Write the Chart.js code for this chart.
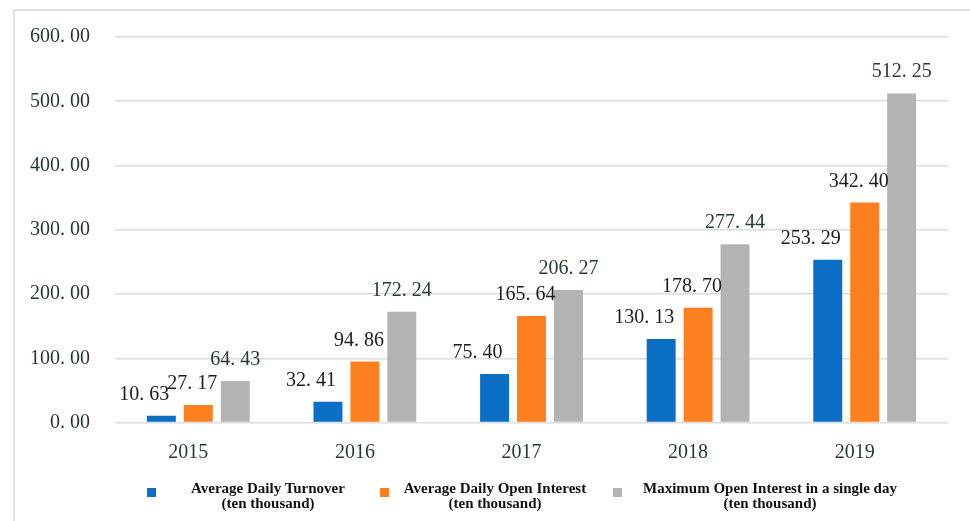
<!DOCTYPE html>
<html>
<head>
<meta charset="utf-8">
<script src="https://cdn.jsdelivr.net/npm/chart.js@4"></script>
<style>
  html, body { margin: 0; padding: 0; background: #fff; }
  #wrap { position: relative; width: 970px; height: 521px; overflow: hidden; }
  #frame { position: absolute; left: 13px; top: 9px; width: 1000px; height: 600px;
           border: 2px solid #e2e2e2; box-sizing: border-box; }
  #chart { position: absolute; left: 0; top: 0; }
  .lg-box { position: absolute; width: 9px; height: 9px; }
  .lg-text { position: absolute; transform: translateX(-50%); white-space: nowrap; text-align: center;
             font: bold 15px "Liberation Serif", "Times New Roman", serif; line-height: 15px; color: #111; }
</style>
</head>
<body>
<div id="wrap">
  <div id="frame"></div>
  <canvas id="chart" width="970" height="521"></canvas>
  <div id="legend"></div>
</div>
<script>
const years = ['2015', '2016', '2017', '2018', '2019'];
const turnover = [10.63, 32.41, 75.40, 130.13, 253.29];
const openInterest = [27.17, 94.86, 165.64, 178.70, 342.40];
const maxOpenInterest = [64.43, 172.24, 206.27, 277.44, 512.25];
const seriesNames = [
  ['Average Daily Turnover', '(ten thousand)'],
  ['Average Daily Open Interest', '(ten thousand)'],
  ['Maximum Open Interest in a single day', '(ten thousand)']
];
const yTicks = [0, 100, 200, 300, 400, 500, 600];

const colors = ['#0b6fc6', '#fd7f20', '#b3b3b3'];
const labelColors = ['#1c1c1c', '#1c1c1c', '#23402d'];
const labelShift = [-17, -6, 0];

function fmt(v) {
  return v.toFixed(2).replace('.', '. ');
}

// value labels drawn above each bar
const valueLabels = {
  id: 'valueLabels',
  afterDatasetsDraw(chart) {
    const ctx = chart.ctx;
    ctx.save();
    ctx.font = '20px "Liberation Serif", "Times New Roman", serif';
    ctx.textAlign = 'center';
    ctx.textBaseline = 'alphabetic';
    chart.data.datasets.forEach((ds, i) => {
      chart.getDatasetMeta(i).data.forEach((bar, j) => {
        ctx.fillStyle = labelColors[i];
        ctx.fillText(fmt(ds.data[j]), bar.x + labelShift[i], bar.y - 16);
      });
    });
    ctx.restore();
  }
};

const chart = new Chart(document.getElementById('chart'), {
  type: 'bar',
  data: {
    labels: years,
    datasets: [turnover, openInterest, maxOpenInterest].map((d, i) => ({
      label: seriesNames[i].join(' '),
      data: d,
      backgroundColor: colors[i],
      categoryPercentage: 0.665,
      barPercentage: 0.784
    }))
  },
  options: {
    responsive: false,
    animation: false,
    layout: { padding: { left: 0, right: 22, top: 35, bottom: 0 } },
    plugins: {
      legend: { display: false },
      tooltip: { enabled: false }
    },
    scales: {
      x: {
        grid: { display: false },
        border: { display: false },
        ticks: {
          color: '#1f3a29',
          font: { family: '"Liberation Serif", "Times New Roman", serif', size: 20 },
          padding: 10,
          labelOffset: -10
        },
        afterFit(scale) { scale.height = 98.5; }
      },
      y: {
        min: 0,
        max: 600,
        afterBuildTicks(scale) { scale.ticks = yTicks.map(v => ({ value: v })); },
        grid: { color: '#dcdcdc', lineWidth: 1.5, drawTicks: false },
        border: { display: false },
        ticks: {
          color: '#1f3a29',
          font: { family: '"Liberation Serif", "Times New Roman", serif', size: 20 },
          padding: 25,
          callback: v => fmt(v)
        },
        afterFit(scale) { scale.width = 115; }
      }
    }
  },
  plugins: [valueLabels]
});

// legend below the chart, built from the datasets
const legendBoxX = [147, 380, 613];
const legendTextX = [268, 495, 770];
const legend = document.getElementById('legend');
chart.data.datasets.forEach((ds, i) => {
  const box = document.createElement('div');
  box.className = 'lg-box';
  box.style.left = legendBoxX[i] + 'px';
  box.style.top = '488px';
  box.style.background = ds.backgroundColor;
  legend.appendChild(box);
  const txt = document.createElement('div');
  txt.className = 'lg-text';
  txt.style.left = legendTextX[i] + 'px';
  txt.style.top = '481px';
  txt.innerHTML = seriesNames[i].join('<br>');
  legend.appendChild(txt);
});
</script>
</body>
</html>
